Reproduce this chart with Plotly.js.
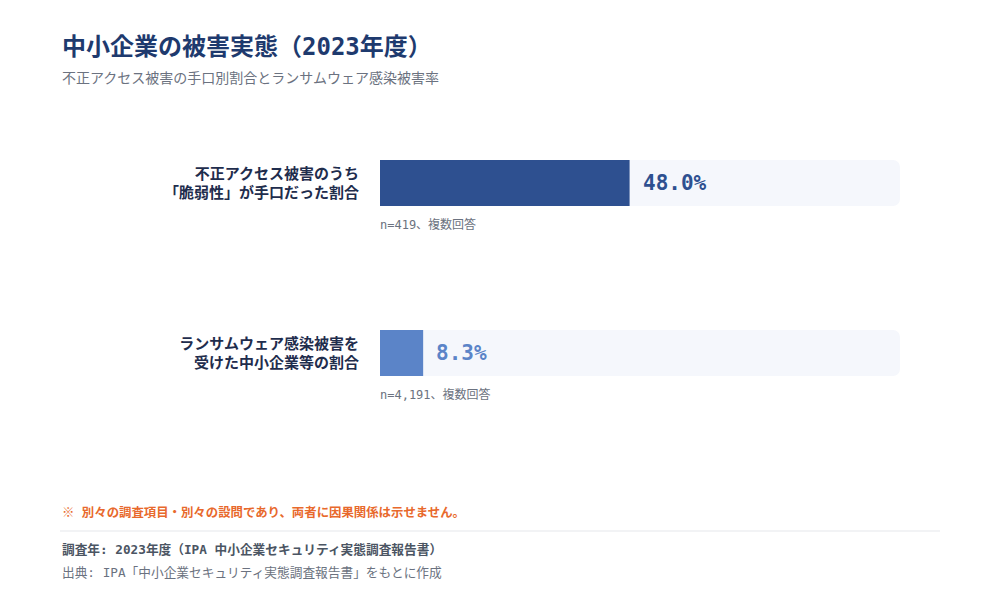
<!DOCTYPE html>
<html>
<head>
<meta charset="utf-8">
<script src="https://cdn.plot.ly/plotly-3.0.1.min.js"></script>
<style>
  html, body { margin: 0; padding: 0; background: #ffffff; }
  #chart { width: 1000px; height: 600px; }
</style>
</head>
<body>
<div id="chart"></div>
<script>
// データ
const categories = [
  "不正アクセス被害のうち<br>「脆弱性」が手口だった割合",
  "ランサムウェア感染被害を<br>受けた中小企業等の割合",
];
const rates = [48.0, 8.3];
const sampleNotes = ["n=419、複数回答", "n=4,191、複数回答"];
const barColors = ["#2e5090", "#5b84c8"];
const trackValues = [100, 100];

const FONT = '"DejaVu Sans Mono", "Noto Sans CJK JP", monospace';

// 位置はピクセルで決めるのでpaper座標に変換（プロット領域 x:380-900, y:98-438）
function px(xp) { return (xp - 380) / 520; }
function py(yp) { return (438 - yp) / 340; }

// トラック（背景）
const trackTrace = {
  type: "bar",
  orientation: "h",
  x: trackValues,
  y: categories,
  marker: { color: "#f5f7fc" },
  width: 0.27,
  hoverinfo: "skip",
  showlegend: false,
};

// 実データ
const valueTrace = {
  type: "bar",
  orientation: "h",
  x: rates,
  y: categories,
  marker: { color: barColors },
  width: 0.27,
  hoverinfo: "skip",
  showlegend: false,
};

// 値ラベルと注記
const annotations = [];
rates.forEach((v, i) => {
  annotations.push({
    x: v, y: categories[i], xref: "x", yref: "y",
    text: "<b>" + v.toFixed(1) + "%</b>",
    showarrow: false, xanchor: "left", xshift: 11,
    font: { family: FONT, size: 21, color: barColors[i] },
  });
  annotations.push({
    x: 0, y: categories[i], xref: "x", yref: "y",
    text: sampleNotes[i],
    showarrow: false, xanchor: "left", yanchor: "middle", yshift: -41, xshift: -2,
    font: { family: FONT, size: 12, color: "#6b7280" },
  });
});

// タイトル・脚注
annotations.push(
  {
    xref: "paper", yref: "paper", x: px(60), y: py(47),
    xanchor: "left", yanchor: "middle", showarrow: false,
    text: "<b>中小企業の被害実態（2023年度）</b>",
    font: { family: FONT, size: 24, color: "#1e3a6e" },
  },
  {
    xref: "paper", yref: "paper", x: px(60), y: py(78),
    xanchor: "left", yanchor: "middle", showarrow: false,
    text: "不正アクセス被害の手口別割合とランサムウェア感染被害率",
    font: { family: FONT, size: 14, color: "#6b7280" },
  },
  {
    xref: "paper", yref: "paper", x: px(60), y: py(512),
    xanchor: "left", yanchor: "middle", showarrow: false,
    text: "<b>※ 別々の調査項目・別々の設問であり、両者に因果関係は示せません。</b>",
    font: { family: FONT, size: 12.4, color: "#e8692c" },
  },
  {
    xref: "paper", yref: "paper", x: px(60), y: py(549),
    xanchor: "left", yanchor: "middle", showarrow: false,
    text: "<b>調査年: 2023年度（IPA 中小企業セキュリティ実態調査報告書）</b>",
    font: { family: FONT, size: 12.7, color: "#4b5563" },
  },
  {
    xref: "paper", yref: "paper", x: px(60), y: py(572),
    xanchor: "left", yanchor: "middle", showarrow: false,
    text: "出典: IPA「中小企業セキュリティ実態調査報告書」をもとに作成",
    font: { family: FONT, size: 12.7, color: "#6b7280" },
  },
);

const layout = {
  width: 1000,
  height: 600,
  margin: { l: 380, r: 100, t: 98, b: 162 },
  paper_bgcolor: "#ffffff",
  plot_bgcolor: "#ffffff",
  barmode: "overlay",
  barcornerradius: 7,
  font: { family: FONT },
  xaxis: {
    range: [0, 100],
    showgrid: false, zeroline: false, showticklabels: false, fixedrange: true,
  },
  yaxis: {
    type: "category",
    range: [1.5, -0.5],
    showgrid: false, zeroline: false, fixedrange: true,
    ticklabelstandoff: 20,
    tickfont: { family: FONT, size: 15, color: "#1f2d4d", weight: "bold" },
  },
  shapes: [
    {
      type: "line", xref: "paper", yref: "paper",
      x0: px(60), x1: px(940), y0: py(531), y1: py(531),
      line: { color: "#e5e7eb", width: 1 },
    },
  ],
  annotations: annotations,
};

Plotly.newPlot("chart", [trackTrace, valueTrace], layout, { displayModeBar: false, staticPlot: true });
</script>
</body>
</html>
